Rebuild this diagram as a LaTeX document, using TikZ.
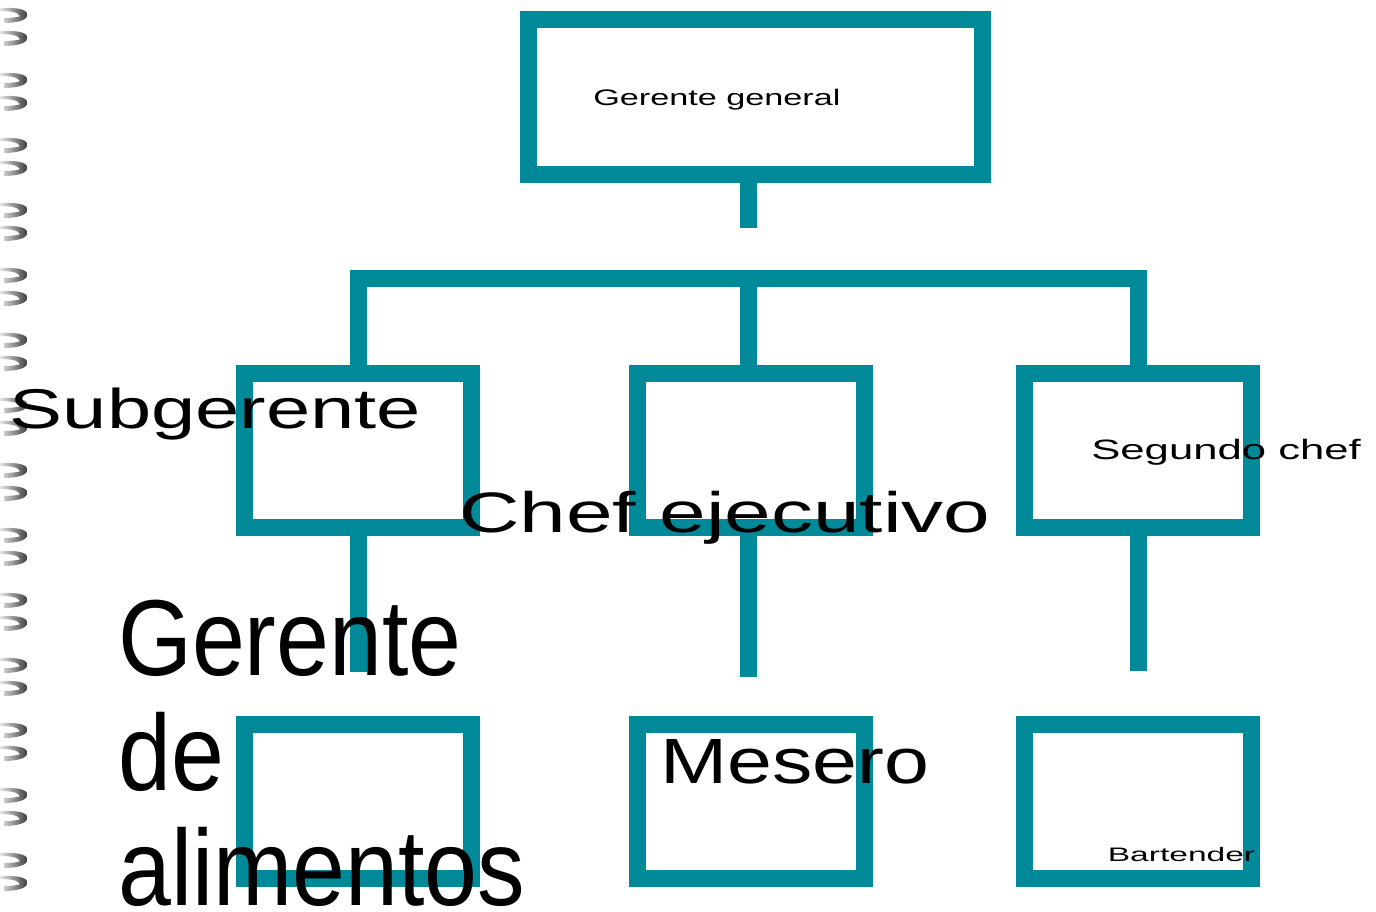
\documentclass[tikz,border=0pt]{standalone}
\usepackage{fontspec}
\setmainfont{Liberation Sans}
\definecolor{orgteal}{RGB}{0,137,153}

\begin{document}
\begin{tikzpicture}[x=1pt,y=-1pt,inner sep=0pt,
  box/.style={draw=orgteal,line width=17pt,minimum width=227pt,minimum height=154pt},
  wire/.style={draw=orgteal,line width=17pt,line join=miter},
  lbl/.style={anchor=base west},
  coil/.style={shading=axis,left color=gray!20,right color=black!80,draw=none}]
\useasboundingbox (0,0) rectangle (1376,912);
% binding on the left edge
\foreach \y in {15,80,...,860,38,103,...,883}
  \path[coil] (0,\y-7) .. controls (22,\y-8) and (29,\y-4) .. (27,\y+1)
    .. controls (26,\y+6) and (14,\y+8) .. (4,\y+8) -- (4,\y+3)
    .. controls (12,\y+3) and (20,\y+2) .. (20,\y+1)
    .. controls (18,\y-3) and (10,\y-4) .. (0,\y-4) -- cycle;
% boxes
\node[box,minimum width=454pt,minimum height=154.5pt] (gg) at (755.5,97.25) {};
\node[box] (sub) at (358,450.5) {};
\node[box] (chef) at (751,450.5) {};
\node[box] (sec) at (1138,450.5) {};
\node[box] (alim) at (358,801) {};
\node[box] (mes) at (751,801) {};
\node[box] (bar) at (1138,801) {};
% connectors
\coordinate (ggstem) at (748,228);
\coordinate (hub) at (748,278);
\coordinate (s1) at (358,672);
\coordinate (s2) at (748,677);
\coordinate (s3) at (1138,671);
\draw[wire] (ggstem |- gg.south) -- (ggstem);
\draw[wire] (sub.north) -- (sub.north |- hub) -- (sec.north |- hub) -- (sec.north);
\draw[wire] (hub) -- (hub |- chef.north);
\draw[wire] (s1 |- sub.south) -- (s1);
\draw[wire] (s2 |- chef.south) -- (s2);
\draw[wire] (s3 |- sec.south) -- (s3);
% labels
\node[lbl,font=\fontsize{22.5}{27}\selectfont,xscale=1.52] (tgg) at (593,106) {Gerente general};
\node[lbl,font=\fontsize{56}{64}\selectfont,xscale=1.42] (tsub) at (9.5,428) {Subgerente};
\node[lbl,font=\fontsize{57}{64}\selectfont,xscale=1.47] (tchef) at (459,532) {Chef ejecutivo};
\node[lbl,font=\fontsize{28}{32}\selectfont,xscale=1.56] (tsec) at (1091,459) {Segundo chef};
\node[lbl,font=\fontsize{19.5}{23}\selectfont,xscale=1.72] (tbar) at (1107.5,861) {Bartender};
\node[lbl,font=\fontsize{64}{72}\selectfont,xscale=1.26] (tmes) at (660,783) {Mesero};
\node[anchor=north west,align=left,font=\fontsize{108}{115}\selectfont,xscale=0.88] (talim) at (118,600) {Gerente\\de\\alimentos};
\end{tikzpicture}
\end{document}
